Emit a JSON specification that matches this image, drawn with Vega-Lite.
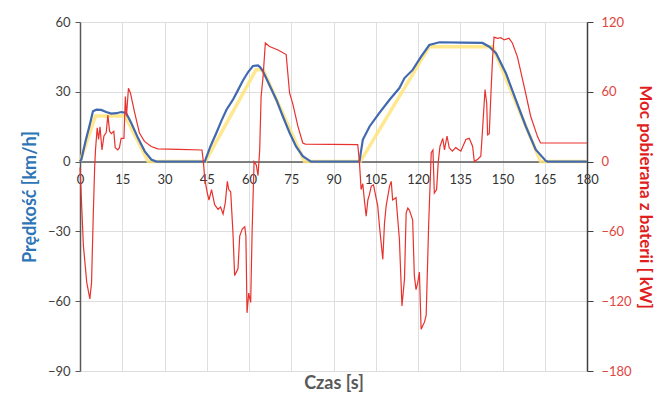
{
  "$schema": "https://vega.github.io/schema/vega-lite/v6.json",
  "width": 507,
  "height": 349,
  "autosize": {"type": "none"},
  "padding": {"left": 80, "top": 22, "right": 69, "bottom": 27},
  "background": "white",
  "config": {
    "view": {"stroke": null},
    "font": "Lato",
    "axis": {"gridColor": "#dedede", "gridWidth": 1, "labelFont": "Lato", "titleFont": "Lato"}
  },
  "datasets": {
    "speed": [
      {"t": 0, "v": 0}, {"t": 0.5, "v": 1}, {"t": 2, "v": 9}, {"t": 3.5, "v": 16}, {"t": 4.6, "v": 21.6},
      {"t": 5.8, "v": 22.3}, {"t": 7.5, "v": 22.2}, {"t": 9.3, "v": 21.3}, {"t": 11.1, "v": 20.6}, {"t": 13, "v": 20.8},
      {"t": 14.6, "v": 21.3}, {"t": 16.3, "v": 21}, {"t": 17.2, "v": 19}, {"t": 18.2, "v": 16.6}, {"t": 20.6, "v": 10.1},
      {"t": 23, "v": 4.4}, {"t": 25.3, "v": 0.9}, {"t": 27.1, "v": 0}, {"t": 44.3, "v": 0}, {"t": 46.3, "v": 6.5},
      {"t": 48.4, "v": 12.3}, {"t": 50.2, "v": 17.5}, {"t": 52, "v": 22.3}, {"t": 54.3, "v": 26.6}, {"t": 56, "v": 30.5},
      {"t": 57.9, "v": 35}, {"t": 59.7, "v": 38.5}, {"t": 61.4, "v": 41.1}, {"t": 63.2, "v": 41.3}, {"t": 64, "v": 40.5},
      {"t": 65, "v": 38.7}, {"t": 67.3, "v": 32.8}, {"t": 69.7, "v": 26.6}, {"t": 72, "v": 19.5}, {"t": 74.4, "v": 12.4},
      {"t": 76.7, "v": 6.5}, {"t": 79.1, "v": 2.3}, {"t": 82, "v": 0}, {"t": 99.2, "v": 0}, {"t": 100.4, "v": 9.4},
      {"t": 102.8, "v": 15.1}, {"t": 106.3, "v": 20.9}, {"t": 109.9, "v": 26.6}, {"t": 113.4, "v": 31.6}, {"t": 115.2, "v": 35.9},
      {"t": 118.1, "v": 39.4}, {"t": 121.1, "v": 45.1}, {"t": 124, "v": 50.1}, {"t": 127.6, "v": 51.3}, {"t": 135.7, "v": 51.1},
      {"t": 142.9, "v": 51}, {"t": 145.3, "v": 49.4}, {"t": 147.7, "v": 46.6}, {"t": 151.2, "v": 38}, {"t": 154.7, "v": 26.6},
      {"t": 158.3, "v": 15.1}, {"t": 161.8, "v": 5.1}, {"t": 165.4, "v": 0.3}, {"t": 166, "v": 0}, {"t": 180, "v": 0}
    ],
    "target": [
      {"t": 0, "v": 0}, {"t": 5.5, "v": 19.6}, {"t": 16, "v": 19.6}, {"t": 24.2, "v": 0}, {"t": 44.5, "v": 0},
      {"t": 62.5, "v": 39.5}, {"t": 65, "v": 39.5}, {"t": 79.7, "v": 0}, {"t": 99.5, "v": 0}, {"t": 124, "v": 49.4},
      {"t": 146.5, "v": 49.4}, {"t": 163.5, "v": 0}, {"t": 180, "v": 0}
    ],
    "power": [
      {"t": 0, "p": -5}, {"t": 0.4, "p": -27}, {"t": 1.2, "p": -72}, {"t": 2.4, "p": -104}, {"t": 3.5, "p": -118},
      {"t": 4.1, "p": -104}, {"t": 4.7, "p": -47}, {"t": 5.2, "p": -5}, {"t": 5.5, "p": 10}, {"t": 6.1, "p": 29},
      {"t": 6.6, "p": 19}, {"t": 7.1, "p": 30}, {"t": 7.8, "p": 10}, {"t": 8.5, "p": 22}, {"t": 9.3, "p": 25},
      {"t": 9.9, "p": 40}, {"t": 10.5, "p": 26}, {"t": 11.1, "p": 24}, {"t": 12, "p": 26}, {"t": 12.5, "p": 12},
      {"t": 13.4, "p": 10}, {"t": 14, "p": 12}, {"t": 14.6, "p": 20}, {"t": 15.6, "p": 20}, {"t": 16.1, "p": 56},
      {"t": 16.5, "p": 39}, {"t": 17.2, "p": 63}, {"t": 17.9, "p": 59}, {"t": 19.4, "p": 42}, {"t": 21.1, "p": 24.6},
      {"t": 22.9, "p": 17.4}, {"t": 25.3, "p": 13}, {"t": 27.6, "p": 11}, {"t": 35, "p": 10.5}, {"t": 43.3, "p": 10},
      {"t": 43.8, "p": 0}, {"t": 44.3, "p": -15}, {"t": 45.2, "p": -27}, {"t": 45.8, "p": -33}, {"t": 46.7, "p": -24},
      {"t": 47.8, "p": -37}, {"t": 49, "p": -41}, {"t": 49.9, "p": -39}, {"t": 50.8, "p": -45}, {"t": 51.6, "p": -35},
      {"t": 52.3, "p": -17}, {"t": 52.8, "p": -24}, {"t": 53.5, "p": -26}, {"t": 54.3, "p": -61}, {"t": 54.9, "p": -98},
      {"t": 55.5, "p": -95}, {"t": 56.1, "p": -92}, {"t": 56.7, "p": -64}, {"t": 57.6, "p": -58}, {"t": 58.5, "p": -56},
      {"t": 58.9, "p": -64}, {"t": 59.3, "p": -130}, {"t": 59.9, "p": -113}, {"t": 60.6, "p": -121}, {"t": 61.1, "p": -61},
      {"t": 61.8, "p": 0}, {"t": 62.6, "p": -3}, {"t": 63.2, "p": -12}, {"t": 63.8, "p": 10}, {"t": 64.3, "p": 56},
      {"t": 65, "p": 73}, {"t": 65.8, "p": 102}, {"t": 67.3, "p": 99}, {"t": 70.3, "p": 96}, {"t": 73.2, "p": 92},
      {"t": 74.4, "p": 59}, {"t": 75.5, "p": 50}, {"t": 77.4, "p": 30}, {"t": 79.1, "p": 16}, {"t": 80, "p": 15},
      {"t": 98.6, "p": 14.6}, {"t": 99.2, "p": 0}, {"t": 99.8, "p": -24}, {"t": 100.4, "p": -19}, {"t": 101, "p": -34},
      {"t": 101.6, "p": -47}, {"t": 102.2, "p": -33}, {"t": 102.8, "p": -28}, {"t": 103.4, "p": -21}, {"t": 104.2, "p": -20},
      {"t": 105.1, "p": -31}, {"t": 105.7, "p": -38}, {"t": 106.3, "p": -55}, {"t": 107.5, "p": -84}, {"t": 108.1, "p": -53},
      {"t": 108.7, "p": -38}, {"t": 109.9, "p": -21}, {"t": 110.5, "p": -17}, {"t": 111, "p": -33}, {"t": 112.2, "p": -31},
      {"t": 113.4, "p": -67}, {"t": 114.3, "p": -124}, {"t": 115.2, "p": -101}, {"t": 115.8, "p": -44}, {"t": 116.4, "p": -40},
      {"t": 117, "p": -42}, {"t": 118.1, "p": -50}, {"t": 118.7, "p": -98}, {"t": 119.3, "p": -110}, {"t": 119.9, "p": -104},
      {"t": 120.5, "p": -95}, {"t": 121.1, "p": -144}, {"t": 122.3, "p": -138}, {"t": 122.9, "p": -132}, {"t": 123.8, "p": -53},
      {"t": 124.7, "p": 7.6}, {"t": 125.3, "p": 10}, {"t": 125.8, "p": -27}, {"t": 126.6, "p": -24}, {"t": 127.2, "p": 0},
      {"t": 127.8, "p": 13}, {"t": 128.8, "p": 20}, {"t": 129.4, "p": 10}, {"t": 130.3, "p": 22}, {"t": 131.1, "p": 11.7},
      {"t": 132.2, "p": 9}, {"t": 133.4, "p": 12}, {"t": 135.2, "p": 9}, {"t": 137, "p": 19}, {"t": 138.2, "p": 20},
      {"t": 139.4, "p": 13}, {"t": 140, "p": 0}, {"t": 141.2, "p": 2}, {"t": 142.3, "p": 4.6}, {"t": 142.9, "p": 27},
      {"t": 143.8, "p": 62}, {"t": 144.4, "p": 50}, {"t": 144.7, "p": 23}, {"t": 145.3, "p": 24}, {"t": 146, "p": 64.5},
      {"t": 146.5, "p": 90}, {"t": 147, "p": 107}, {"t": 148.2, "p": 106}, {"t": 149.4, "p": 106.5}, {"t": 150.6, "p": 104.6},
      {"t": 152.3, "p": 106}, {"t": 153.5, "p": 102}, {"t": 155.3, "p": 90}, {"t": 157.7, "p": 64.5}, {"t": 160, "p": 39},
      {"t": 162.4, "p": 21.7}, {"t": 163.5, "p": 16}, {"t": 180, "p": 16}
    ]
  },
  "layer": [
    {
      "layer": [
        {
          "data": {"name": "target"},
          "mark": {"type": "line", "color": "#FFE47A", "strokeWidth": 3.5, "opacity": 0.85},
          "encoding": {
            "x": {"field": "t", "type": "quantitative", "scale": {"domain": [0, 180], "nice": false},
              "axis": {"values": [0, 15, 30, 45, 60, 75, 90, 105, 120, 135, 150, 165, 180], "offset": -209.4, "ticks": false,
                "domainColor": "#595959", "domainWidth": 1.5, "labelPadding": 12, "labelFontSize": 13, "labelColor": "#333333",
                "labelFlush": false, "title": "Czas [s]", "titleFontSize": 18, "titleFontWeight": "bold", "titleColor": "#595959",
                "titleY": 213, "titleBaseline": "top", "grid": true}},
            "y": {"field": "v", "type": "quantitative", "scale": {"domain": [-90, 60], "nice": false, "zero": false},
              "axis": {"values": [-90, -60, -30, 0, 30, 60], "grid": true, "domainColor": "#595959", "domainWidth": 1.5,
                "tickColor": "#595959", "tickSize": 5, "labelFontSize": 13, "labelColor": "#404040", "labelPadding": 5,
                "title": "Prędkość [km/h]", "titleColor": "#2E75B6", "titleFontSize": 18, "titleFontWeight": "bold", "titlePadding": 8}}
          }
        },
        {
          "data": {"name": "speed"},
          "mark": {"type": "line", "color": "#4169B0", "strokeWidth": 2.2},
          "encoding": {
            "x": {"field": "t", "type": "quantitative"},
            "y": {"field": "v", "type": "quantitative"}
          }
        }
      ]
    },
    {
      "data": {"name": "power"},
      "mark": {"type": "line", "color": "#E8322E", "strokeWidth": 1.2},
      "encoding": {
        "x": {"field": "t", "type": "quantitative"},
        "y": {"field": "p", "type": "quantitative", "scale": {"domain": [-180, 120], "nice": false, "zero": false},
          "axis": {"orient": "right", "values": [-180, -120, -60, 0, 60, 120], "grid": false, "domainColor": "#404040", "domainWidth": 1.5,
            "tickColor": "#404040", "tickSize": 6, "labelFontSize": 13, "labelColor": "#E0453E", "labelPadding": 8,
            "title": "Moc pobierana z baterii [ kW]", "titleColor": "#E01E1E", "titleFontSize": 17, "titleFontWeight": "bold", "titlePadding": 4}}
      }
    }
  ],
  "resolve": {"scale": {"y": "independent"}}
}
